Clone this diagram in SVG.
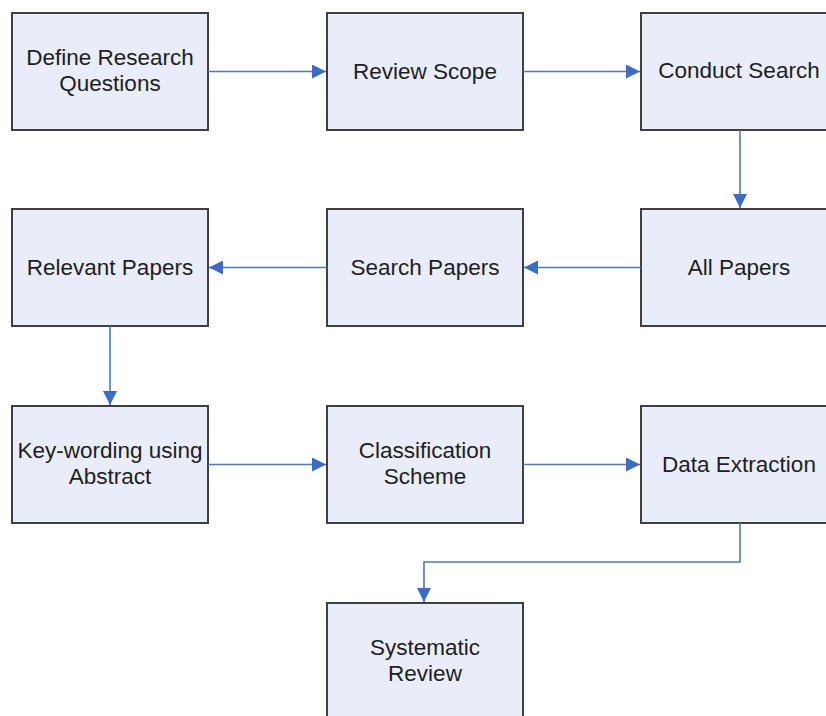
<svg xmlns="http://www.w3.org/2000/svg" width="826" height="716" viewBox="0 0 826 716">
<defs>
<style>
.box{fill:#e9edf9;stroke:#3f3f3f;stroke-width:2}
.t{font-family:"Liberation Sans",Arial,sans-serif;font-size:22.5px;fill:#1e1e1e;text-anchor:middle}
.c{fill:none;stroke:#4a78c8;stroke-width:1.6}
</style>
<marker id="ah" markerWidth="14" markerHeight="14" refX="14" refY="7" orient="auto" markerUnits="userSpaceOnUse" viewBox="0 0 14 14">
<path d="M0,0 L14,7 L0,14 z" fill="#3a6cc8"/>
</marker>
</defs>
<rect width="826" height="716" fill="#ffffff"/>
<g id="n1"><rect class="box" x="12" y="13" width="196" height="117"/><text class="t" x="110" y="65">Define Research</text><text class="t" x="110" y="91">Questions</text></g>
<g id="n2"><rect class="box" x="327" y="13" width="196" height="117"/><text class="t" x="425" y="79">Review Scope</text></g>
<g id="n3"><rect class="box" x="641" y="13" width="196" height="117"/><text class="t" x="739" y="78">Conduct Search</text></g>
<g id="n4"><rect class="box" x="641" y="209" width="196" height="117"/><text class="t" x="739" y="275">All Papers</text></g>
<g id="n5"><rect class="box" x="327" y="209" width="196" height="117"/><text class="t" x="425" y="275">Search Papers</text></g>
<g id="n6"><rect class="box" x="12" y="209" width="196" height="117"/><text class="t" x="110" y="275">Relevant Papers</text></g>
<g id="n7"><rect class="box" x="12" y="406" width="196" height="117"/><text class="t" x="110" y="458">Key-wording using</text><text class="t" x="110" y="484">Abstract</text></g>
<g id="n8"><rect class="box" x="327" y="406" width="196" height="117"/><text class="t" x="425" y="458">Classification</text><text class="t" x="425" y="484">Scheme</text></g>
<g id="n9"><rect class="box" x="641" y="406" width="196" height="117"/><text class="t" x="739" y="472">Data Extraction</text></g>
<g id="n10"><rect class="box" x="327" y="603" width="196" height="130"/><text class="t" x="425" y="655">Systematic</text><text class="t" x="425" y="681">Review</text></g>
<g id="connectors">
<path class="c" d="M208,71.5 H326" marker-end="url(#ah)"/>
<path class="c" d="M523,71.5 H640" marker-end="url(#ah)"/>
<path class="c" d="M740,130 V208" marker-end="url(#ah)"/>
<path class="c" d="M641,267.5 H524" marker-end="url(#ah)"/>
<path class="c" d="M327,267.5 H209" marker-end="url(#ah)"/>
<path class="c" d="M110,326 V405" marker-end="url(#ah)"/>
<path class="c" d="M208,464.5 H326" marker-end="url(#ah)"/>
<path class="c" d="M523,464.5 H640" marker-end="url(#ah)"/>
<path class="c" d="M740,523 V562 H424 V602" marker-end="url(#ah)"/>
</g>
</svg>
